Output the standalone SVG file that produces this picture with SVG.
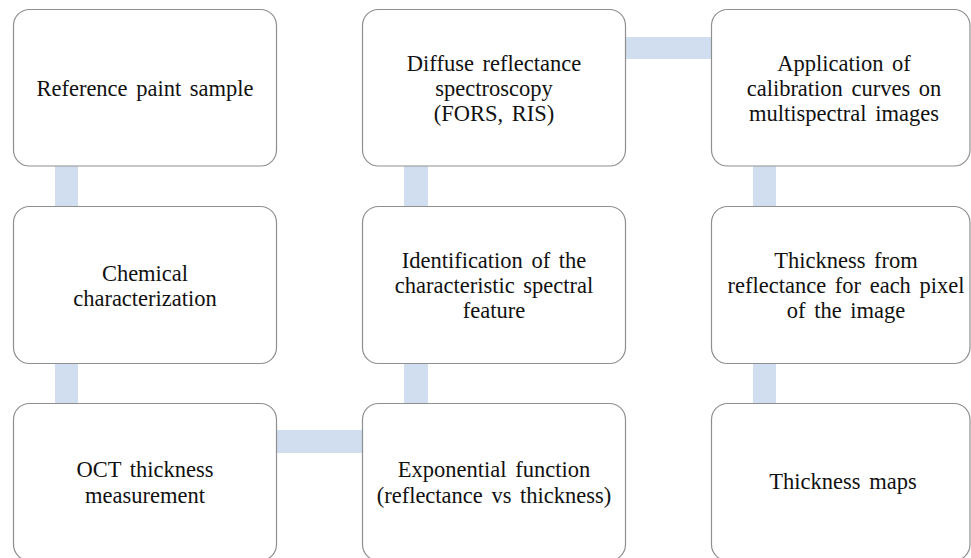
<svg xmlns="http://www.w3.org/2000/svg" width="971" height="558" viewBox="0 0 971 558">
<style>
.box{fill:#ffffff;stroke:#8f8f8f;stroke-width:1.2}
.conn{fill:#d0def0;stroke:none}
.t{font-family:'Liberation Serif','Times New Roman','DejaVu Serif',serif;font-size:22.5px;fill:#111111;text-anchor:middle;word-spacing:3px}
</style>
<rect x="0" y="0" width="971" height="558" fill="#ffffff"/>
<g id="connectors">
<rect class="conn" x="55" y="160" width="23" height="52"/>
<rect class="conn" x="55" y="357" width="23" height="52"/>
<rect class="conn" x="271" y="430" width="97" height="23"/>
<rect class="conn" x="404" y="357" width="24" height="52"/>
<rect class="conn" x="404" y="160" width="24" height="52"/>
<rect class="conn" x="619" y="37" width="98" height="22"/>
<rect class="conn" x="753" y="160" width="23" height="52"/>
<rect class="conn" x="753" y="357" width="23" height="52"/>
</g>
<g class="t">
<g id="n1"><rect class="box" x="13.5" y="9.5" width="263" height="156.5" rx="16"/><text x="145" y="96">Reference paint sample</text></g>
<g id="n2"><rect class="box" x="13.5" y="206.5" width="263" height="157" rx="16"/><text x="145" y="280.5">Chemical</text><text x="145" y="306">characterization</text></g>
<g id="n3"><rect class="box" x="13.5" y="403.5" width="263" height="157" rx="16"/><text x="145" y="477">OCT thickness</text><text x="145" y="502.5">measurement</text></g>
<g id="n4"><rect class="box" x="362.5" y="403.5" width="263" height="157" rx="16"/><text x="494" y="477">Exponential function</text><text x="494" y="502.5">(reflectance vs thickness)</text></g>
<g id="n5"><rect class="box" x="362.5" y="206.5" width="263" height="157" rx="16"/><text x="494" y="268">Identification of the</text><text x="494" y="293">characteristic spectral</text><text x="494" y="318">feature</text></g>
<g id="n6"><rect class="box" x="362.5" y="9.5" width="263" height="156.5" rx="16"/><text x="494" y="71">Diffuse reflectance</text><text x="494" y="96">spectroscopy</text><text x="494" y="121">(FORS, RIS)</text></g>
<g id="n7"><rect class="box" x="711.5" y="9.5" width="258.5" height="156.5" rx="16"/><text x="844" y="71">Application of</text><text x="844" y="96">calibration curves on</text><text x="844" y="121">multispectral images</text></g>
<g id="n8"><rect class="box" x="711.5" y="206.5" width="258.5" height="157" rx="16"/><text x="846" y="268">Thickness from</text><text x="846" y="293">reflectance for each pixel</text><text x="846" y="318">of the image</text></g>
<g id="n9"><rect class="box" x="711.5" y="403.5" width="258.5" height="157" rx="16"/><text x="843" y="489">Thickness maps</text></g>
</g>
</svg>
